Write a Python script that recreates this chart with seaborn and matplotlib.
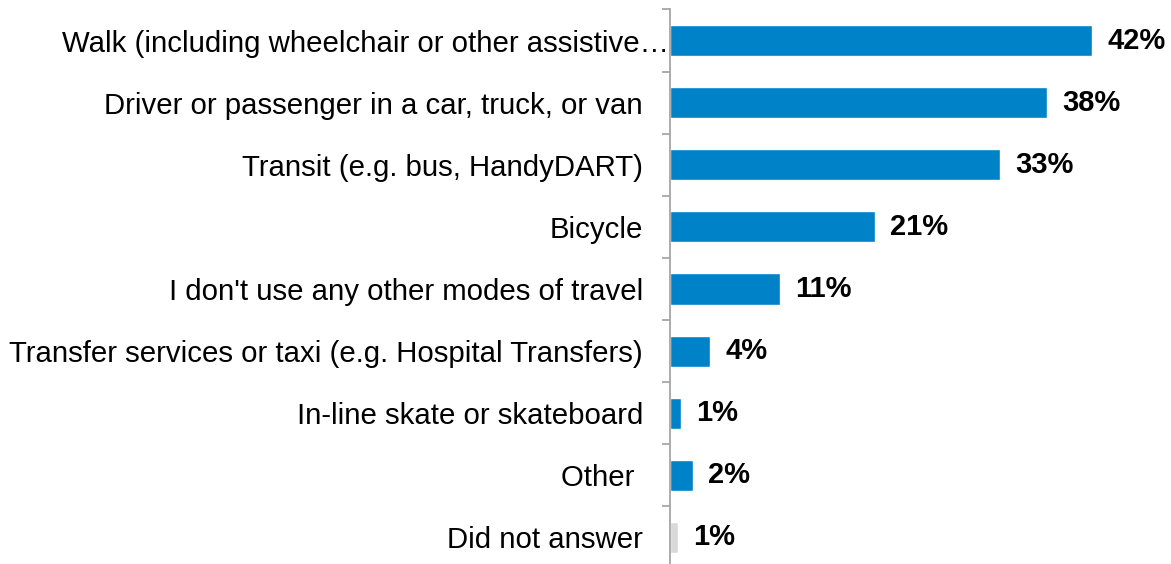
import numpy as np
import pandas as pd
import matplotlib
matplotlib.use("Agg")
import matplotlib.pyplot as plt
import matplotlib.transforms as mtransforms
import seaborn as sns

# Data
modes = [
    "Walk (including wheelchair or other assistive\u2026",
    "Driver or passenger in a car, truck, or van",
    "Transit (e.g. bus, HandyDART)",
    "Bicycle",
    "I don't use any other modes of travel",
    "Transfer services or taxi (e.g. Hospital Transfers)",
    "In-line skate or skateboard",
    "Other ",
    "Did not answer",
]
shares = [42.0, 37.5, 32.8, 20.4, 10.9, 4.0, 1.1, 2.3, 0.8]
share_labels = ["42%", "38%", "33%", "21%", "11%", "4%", "1%", "2%", "1%"]
bar_colors = ["#0082C8"] * 8 + ["#D9D9D9"]

df = pd.DataFrame({"mode": modes, "share": shares})

sns.set_style("white")
plt.rcParams["font.family"] = ["Liberation Sans", "DejaVu Sans"]

fig = plt.figure(figsize=(11.71, 5.64), dpi=100)
W, H = 1171, 564
# axes placed in pixel terms: left edge at x=670, top at y=9.5
left, top, bottom = 670, 9.5, 568.5
ax = fig.add_axes([left / W, (H - bottom) / H, (W - left) / W, (bottom - top) / H])

sns.barplot(data=df, y="mode", x="share", hue="mode", palette=bar_colors,
            legend=False, orient="h", width=0.5, ax=ax, saturation=1)

ax.set_xlim(0, (W - left) / 10.05)
ax.set_ylim(len(modes) - 0.5, -0.5)
ax.set_xlabel("")
ax.set_ylabel("")
ax.set_xticks([])

for s in ["top", "right", "bottom"]:
    ax.spines[s].set_visible(False)
ax.spines["left"].set_color("#A6A6A6")
ax.spines["left"].set_linewidth(1.3)

# labels at bar centres, tick marks at category boundaries
ax.set_yticks(np.arange(len(modes)))
ax.set_yticklabels(modes, fontsize=21.2, color="black")
ax.tick_params(axis="y", which="major", left=True, length=0, pad=19.5)
ax.set_yticks(np.arange(len(modes) + 1) - 0.5, minor=True)
ax.tick_params(axis="y", which="minor", left=True, length=6, width=1.3,
               color="#A6A6A6", direction="out")

# the truncated first label runs up to the axis line
first = ax.get_yticklabels()[0]
first.set_transform(first.get_transform() + mtransforms.ScaledTranslation(26 / 100, 0, fig.dpi_scale_trans))

for i, (val, lab) in enumerate(zip(shares, share_labels)):
    ax.annotate(lab, xy=(val, i), xytext=(11, 0), textcoords="offset points",
                va="center", ha="left", fontsize=21, fontweight="bold", color="black")

fig.savefig("out.png", dpi=100)
